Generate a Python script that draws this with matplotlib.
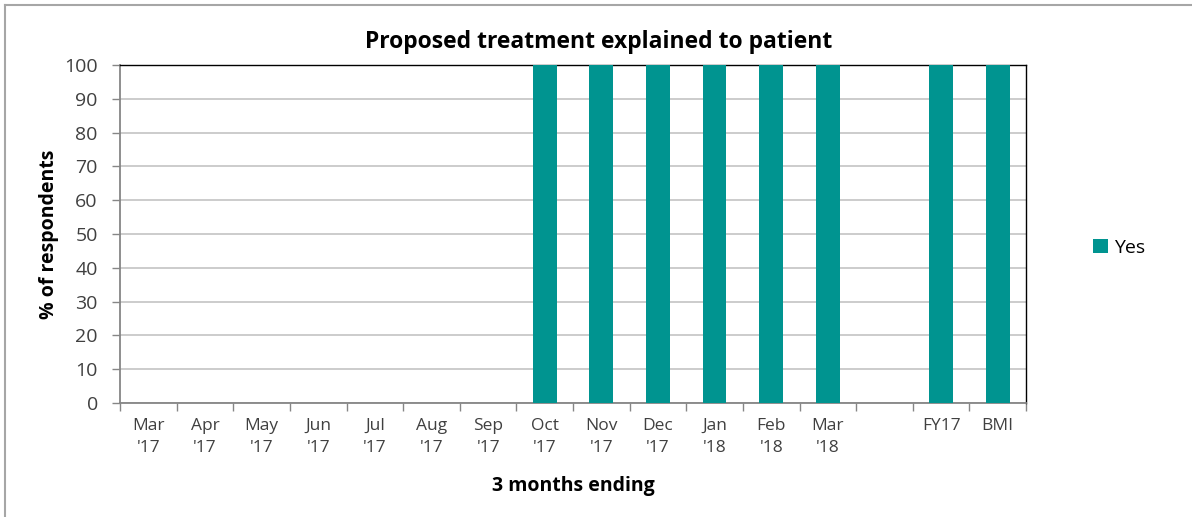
import numpy as np
import matplotlib.pyplot as plt
from matplotlib.lines import Line2D

plt.rcParams['font.family'] = ['Open Sans', 'DejaVu Sans']

# Categories (blank slot separates monthly figures from the benchmarks)
months = ["Mar\n'17", "Apr\n'17", "May\n'17", "Jun\n'17", "Jul\n'17", "Aug\n'17",
          "Sep\n'17", "Oct\n'17", "Nov\n'17", "Dec\n'17", "Jan\n'18", "Feb\n'18",
          "Mar\n'18", "", "FY17", "BMI"]
# % answering "Yes" (None = no data)
yes_pct = [None, None, None, None, None, None, None,
           100, 100, 100, 100, 100, 100, None, 100, 100]

teal = '#009490'
axis_grey = '#868686'

fig = plt.figure(figsize=(11.92, 5.17), dpi=100)
ax = fig.add_axes([120 / 1192, 1 - 403 / 517, (1026 - 120) / 1192, (403 - 65) / 517])

x = np.arange(len(months))
heights = np.array([np.nan if v is None else v for v in yes_pct], dtype=float)
mask = ~np.isnan(heights)
ax.bar(x[mask], heights[mask], width=0.42, color=teal, label='Yes', zorder=3)

ax.set_xlim(-0.5, len(months) - 0.5)
ax.set_ylim(0, 100)
ax.set_yticks(range(0, 101, 10))
ax.yaxis.grid(True, color='#c8c8c8', linewidth=1.3, zorder=0)
ax.set_axisbelow(True)

# category labels centred, tick marks on the boundaries
ax.set_xticks(x)
ax.set_xticklabels(months, fontsize=12.5, color='#404040', linespacing=1.5)
ax.set_xticks(np.arange(len(months) + 1) - 0.5, minor=True)
ax.tick_params(axis='x', which='major', length=0, pad=11)
ax.tick_params(axis='x', which='minor', length=6, color=axis_grey, width=1)
ax.tick_params(axis='y', length=6, color=axis_grey, width=1, labelsize=14,
               labelcolor='#404040', pad=10)

for side in ('top', 'right'):
    ax.spines[side].set_color('black')
    ax.spines[side].set_linewidth(1)
for side in ('left', 'bottom'):
    ax.spines[side].set_color(axis_grey)
    ax.spines[side].set_linewidth(1.3)

# title is centred over the whole chart area, not the plot area
fig.text(599 / 1192, 1 - 42 / 517, 'Proposed treatment explained to patient',
         fontsize=16.5, fontweight='bold', color='black', ha='center', va='center')
ax.set_xlabel('3 months ending', fontsize=14, fontweight='bold', labelpad=14)
ax.set_ylabel('% of respondents', fontsize=14, fontweight='bold', labelpad=4)

ax.legend(loc='center left', bbox_to_anchor=(1.055, 0.459), frameon=False,
          fontsize=14, handlelength=0.75, handleheight=0.75, handletextpad=0.3)

# outer chart frame (only the top and left edges fall inside the image)
fig.add_artist(Line2D([5 / 1192, 1], [1 - 5 / 517, 1 - 5 / 517],
                      transform=fig.transFigure, color='#a6a6a6', linewidth=1.5))
fig.add_artist(Line2D([5 / 1192, 5 / 1192], [0, 1 - 5 / 517],
                      transform=fig.transFigure, color='#a6a6a6', linewidth=1.5))

fig.savefig('out.png', dpi=100)
